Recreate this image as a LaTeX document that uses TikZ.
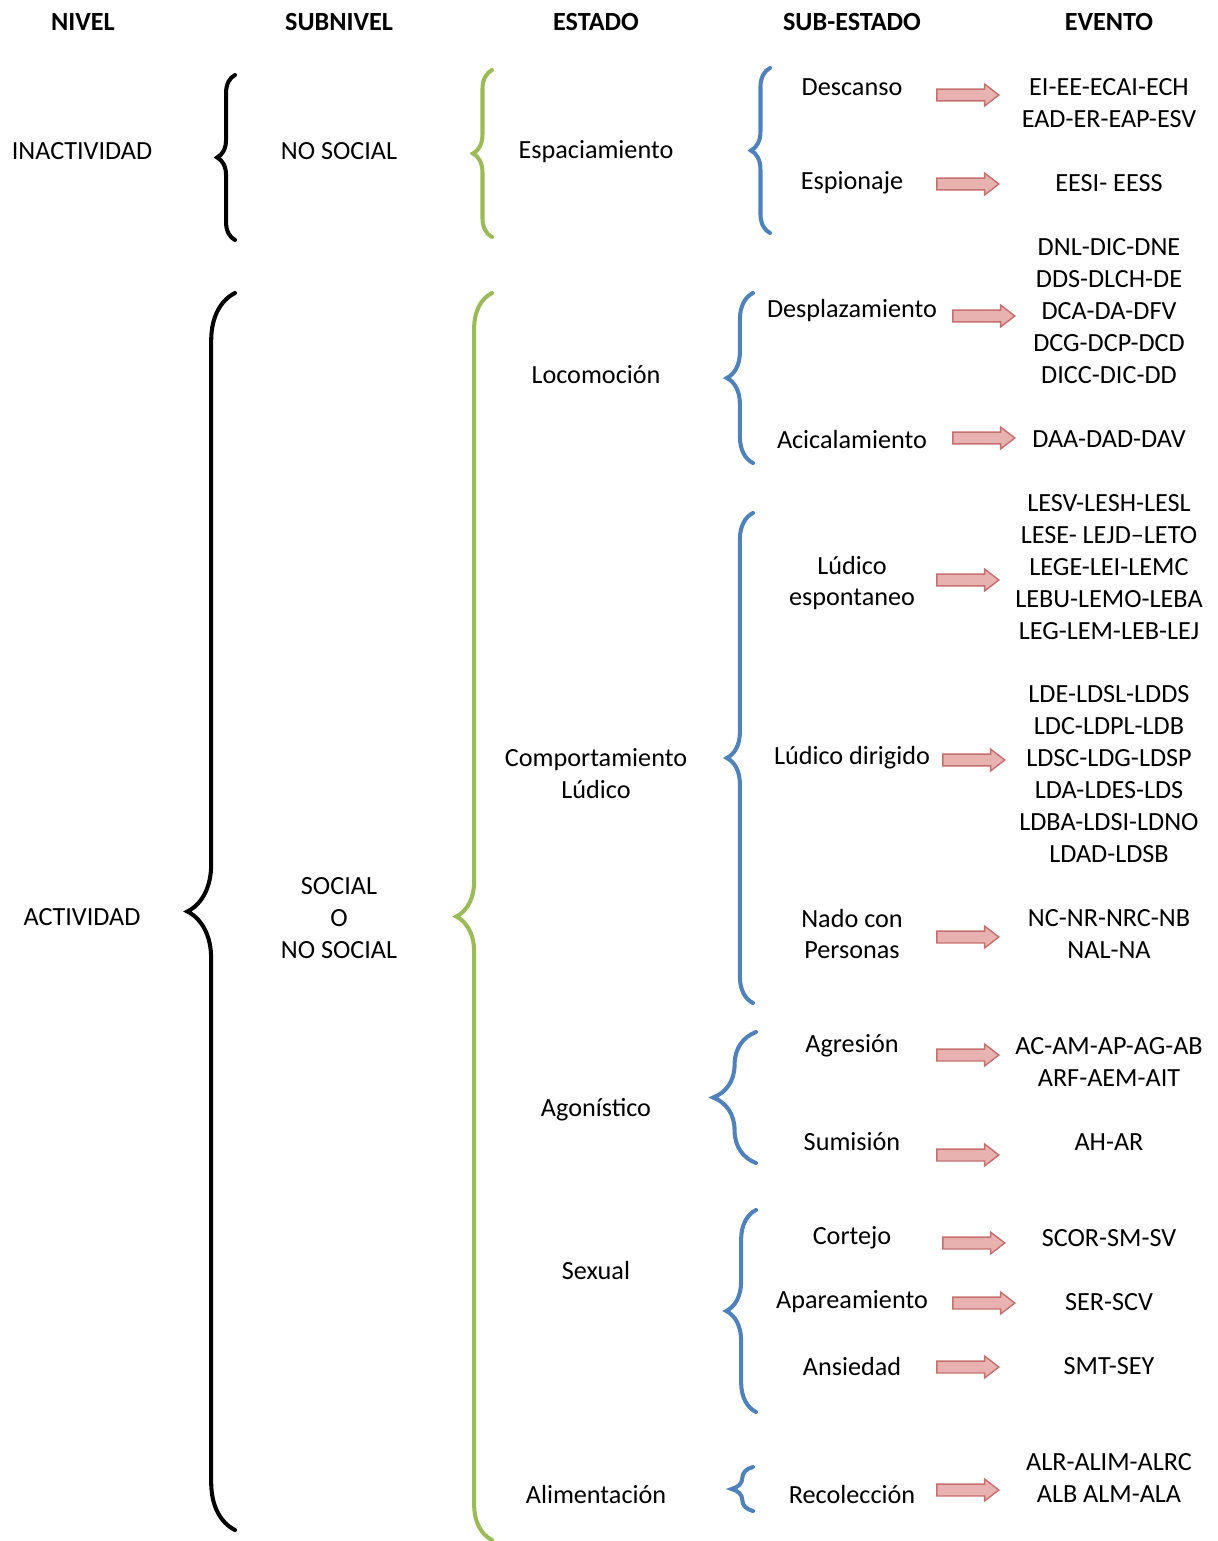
\documentclass[tikz,border=0pt]{standalone}
\usepackage{fontspec}
\setmainfont{Carlito}
\usetikzlibrary{decorations.pathreplacing,shapes.arrows}
\definecolor{bracegreen}{RGB}{155,187,89}
\definecolor{braceblue}{RGB}{79,129,189}
\definecolor{arrowline}{RGB}{196,112,110}
\definecolor{arrowfill}{RGB}{232,178,176}
\tikzset{
  txt/.style={align=center,inner sep=0pt,font=\fontsize{11}{13.4}\selectfont},
  hdr/.style={txt,font=\fontsize{11}{13.4}\selectfont\bfseries},
  curly/.style={decorate,decoration={brace,amplitude=#1},line width=1.7pt,line cap=round},
  blockarrow/.style={single arrow,draw=arrowline,line width=0.6pt,
    top color=arrowfill,middle color=white,bottom color=arrowfill,
    minimum height=26pt,minimum width=8.6pt,inner sep=2.2pt,
    single arrow head extend=2.1pt,single arrow tip angle=75}
}
\begin{document}
\begin{tikzpicture}[x=0.42pt,y=-0.42pt]
  \useasboundingbox (0,0) rectangle (1217,1541);
  % headers
  \node[hdr] (hnivel) at (83,22) {NIVEL};
  \node[hdr] (hsub) at (339,22) {SUBNIVEL};
  \node[hdr] (hest) at (596,22) {ESTADO};
  \node[hdr] (hsubest) at (852,22) {SUB-ESTADO};
  \node[hdr] (hev) at (1109,22) {EVENTO};
  % nivel / subnivel
  \node[txt] (inact) at (82,151) {INACTIVIDAD};
  \node[txt] (nosoc) at (339,151) {NO SOCIAL};
  \node[txt] (act) at (82,917) {ACTIVIDAD};
  \node[txt] (soc) at (339,918) {SOCIAL\\O\\NO SOCIAL};
  % estados
  \node[txt] (espac) at (596,152) {Espaciamiento};
  \node[txt] (locom) at (596,375) {Locomoción};
  \node[txt] (ludico) at (596,774) {Comportamiento\\Lúdico};
  \node[txt] (agon) at (596,1110) {Agonístico};
  \node[txt] (sexual) at (596,1270) {Sexual};
  \node[txt] (alim) at (596,1494) {Alimentación};
  % sub-estados
  \node[txt] (desc) at (852,87) {Descanso};
  \node[txt] (espio) at (852,183) {Espionaje};
  \node[txt] (despl) at (852,311) {Desplazamiento};
  \node[txt] (acical) at (852,439) {Acicalamiento};
  \node[txt] (ludesp) at (852,583) {Lúdico\\espontaneo};
  \node[txt] (luddir) at (852,758) {Lúdico dirigido};
  \node[txt] (nado) at (852,934) {Nado con\\Personas};
  \node[txt] (agres) at (852,1046) {Agresión};
  \node[txt] (sumis) at (852,1142) {Sumisión};
  \node[txt] (cortejo) at (852,1238) {Cortejo};
  \node[txt] (apar) at (852,1302) {Apareamiento};
  \node[txt] (ansied) at (852,1366) {Ansiedad};
  \node[txt] (recol) at (852,1494) {Recolección};
  % eventos
  \node[txt] (evdesc) at (1109,103) {EI-EE-ECAI-ECH\\EAD-ER-EAP-ESV};
  \node[txt] (evespio) at (1109,183) {EESI- EESS};
  \node[txt] (evdespl) at (1109,311) {DNL-DIC-DNE\\DDS-DLCH-DE\\DCA-DA-DFV\\DCG-DCP-DCD\\DICC-DIC-DD};
  \node[txt] (evacical) at (1109,439) {DAA-DAD-DAV};
  \node[txt] (evludesp) at (1109,567) {LESV-LESH-LESL\\LESE- LEJD--LETO\\LEGE-LEI-LEMC\\LEBU-LEMO-LEBA\\LEG-LEM-LEB-LEJ};
  \node[txt] (evluddir) at (1109,774) {LDE-LDSL-LDDS\\LDC-LDPL-LDB\\LDSC-LDG-LDSP\\LDA-LDES-LDS\\LDBA-LDSI-LDNO\\LDAD-LDSB};
  \node[txt] (evnado) at (1109,934) {NC-NR-NRC-NB\\NAL-NA};
  \node[txt] (evagres) at (1109,1062) {AC-AM-AP-AG-AB\\ARF-AEM-AIT};
  \node[txt] (evsumis) at (1109,1142) {AH-AR};
  \node[txt] (evcortejo) at (1109,1238) {SCOR-SM-SV};
  \node[txt] (evapar) at (1109,1302) {SER-SCV};
  \node[txt] (evansied) at (1109,1366) {SMT-SEY};
  \node[txt] (evrecol) at (1109,1478) {ALR-ALIM-ALRC\\ALB ALM-ALA};
  % braces
  \draw[curly=7.5pt,black] (235,240) -- (235,75);
  \draw[curly=20pt,black] (235,1530) -- (235,293);
  \draw[curly=8pt,bracegreen] (492,237) -- (492,70);
  \draw[curly=15pt,bracegreen] (492,1540) -- (492,293);
  \draw[curly=8pt,braceblue] (770,233) -- (770,68);
  \draw[curly=11pt,braceblue] (753,463) -- (753,293);
  \draw[curly=11pt,braceblue] (753,1003) -- (753,513);
  \draw[curly=18pt,braceblue] (756,1163) -- (756,1032);
  \draw[curly=12.5pt,braceblue] (756,1412) -- (756,1210);
  \draw[curly=9pt,braceblue] (753,1511) -- (753,1467);
  % block arrows
  \foreach \x/\y/\n in {964/95/desc,964/184/espio,980/316/despl,980/438/acical,
      964/580/ludesp,970/760/luddir,964/937/nado,964/1055/agres,964/1155/sumis,
      970/1243/cortejo,980/1303/apar,964/1367/ansied,964/1490/recol}
    \node[blockarrow] (arr\n) at (\x,\y) {};
\end{tikzpicture}
\end{document}
